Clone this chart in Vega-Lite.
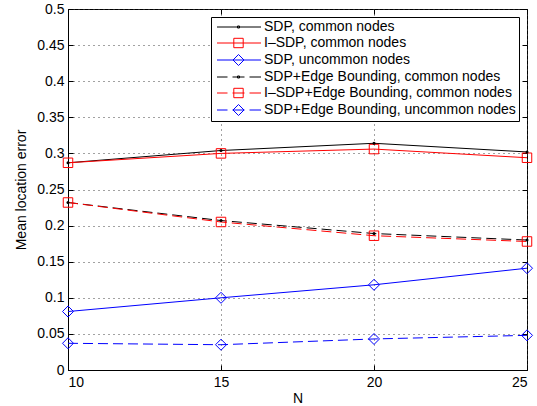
{
  "$schema": "https://vega.github.io/schema/vega-lite/v6.json",
  "width": 459,
  "height": 361,
  "autosize": {"type": "none"},
  "padding": {"left": 68, "top": 9, "right": 10, "bottom": 36},
  "background": "white",
  "config": {
    "view": {"stroke": "black", "strokeWidth": 1},
    "font": "Liberation Sans",
    "axis": {
      "labelFont": "Liberation Sans", "labelFontSize": 14, "labelColor": "black",
      "titleFont": "Liberation Sans", "titleFontSize": 14, "titleFontWeight": "normal", "titleColor": "black",
      "domainColor": "black", "tickColor": "black", "tickSize": -5,
      "gridColor": "#444", "gridDash": [1, 4], "gridOpacity": 1, "gridWidth": 1
    }
  },
  "data": {
    "values": [
      {"series": "SDP, common nodes", "N": 10, "error": 0.287},
      {"series": "SDP, common nodes", "N": 15, "error": 0.304},
      {"series": "SDP, common nodes", "N": 20, "error": 0.314},
      {"series": "SDP, common nodes", "N": 25, "error": 0.302},
      {"series": "I–SDP, common nodes", "N": 10, "error": 0.287},
      {"series": "I–SDP, common nodes", "N": 15, "error": 0.300},
      {"series": "I–SDP, common nodes", "N": 20, "error": 0.306},
      {"series": "I–SDP, common nodes", "N": 25, "error": 0.294},
      {"series": "SDP, uncommon nodes", "N": 10, "error": 0.081},
      {"series": "SDP, uncommon nodes", "N": 15, "error": 0.100},
      {"series": "SDP, uncommon nodes", "N": 20, "error": 0.118},
      {"series": "SDP, uncommon nodes", "N": 25, "error": 0.141},
      {"series": "SDP+Edge Bounding, common nodes", "N": 10, "error": 0.232},
      {"series": "SDP+Edge Bounding, common nodes", "N": 15, "error": 0.207},
      {"series": "SDP+Edge Bounding, common nodes", "N": 20, "error": 0.189},
      {"series": "SDP+Edge Bounding, common nodes", "N": 25, "error": 0.180},
      {"series": "I–SDP+Edge Bounding, common nodes", "N": 10, "error": 0.232},
      {"series": "I–SDP+Edge Bounding, common nodes", "N": 15, "error": 0.205},
      {"series": "I–SDP+Edge Bounding, common nodes", "N": 20, "error": 0.186},
      {"series": "I–SDP+Edge Bounding, common nodes", "N": 25, "error": 0.178},
      {"series": "SDP+Edge Bounding, uncommon nodes", "N": 10, "error": 0.037},
      {"series": "SDP+Edge Bounding, uncommon nodes", "N": 15, "error": 0.035},
      {"series": "SDP+Edge Bounding, uncommon nodes", "N": 20, "error": 0.043},
      {"series": "SDP+Edge Bounding, uncommon nodes", "N": 25, "error": 0.048}
    ]
  },
  "layer": [
    {
      "mark": {"type": "point", "filled": false, "size": 100, "strokeWidth": 1, "opacity": 0},
      "encoding": {
        "x": {
          "field": "N", "type": "quantitative",
          "scale": {"domain": [10, 25], "nice": false, "zero": false},
          "axis": {"orient": "bottom", "values": [10, 15, 20, 25], "title": "N", "grid": true, "labelPadding": 10, "titlePadding": 2}
        },
        "y": {
          "field": "error", "type": "quantitative",
          "scale": {"domain": [0, 0.5], "nice": false},
          "axis": {"orient": "left", "values": [0, 0.05, 0.1, 0.15, 0.2, 0.25, 0.3, 0.35, 0.4, 0.45, 0.5], "format": "~g", "title": "Mean location error", "grid": true, "labelPadding": 9, "titlePadding": 8}
        },
        "color": {
          "field": "series", "type": "nominal",
          "scale": {
            "domain": ["SDP, common nodes", "I–SDP, common nodes", "SDP, uncommon nodes", "SDP+Edge Bounding, common nodes", "I–SDP+Edge Bounding, common nodes", "SDP+Edge Bounding, uncommon nodes"],
            "range": ["#000000", "#ff0000", "#0000ff", "#000000", "#ff0000", "#0000ff"]
          },
          "legend": {
            "orient": "top-right", "offset": 8, "title": null,
            "labelFont": "Liberation Sans", "labelFontSize": 14, "labelColor": "black", "labelLimit": 400,
            "symbolSize": 100, "symbolStrokeWidth": 1, "symbolOpacity": 1, "labelOffset": 36,
            "padding": 3, "rowPadding": 2,
            "strokeColor": "black", "fillColor": "white"
          }
        },
        "shape": {
          "field": "series", "type": "nominal",
          "scale": {
            "domain": ["SDP, common nodes", "I–SDP, common nodes", "SDP, uncommon nodes", "SDP+Edge Bounding, common nodes", "I–SDP+Edge Bounding, common nodes", "SDP+Edge Bounding, uncommon nodes"],
            "range": [
              "M-0.8,0H8M3.3,-0.2H3.7V0.2H3.3Z",
              "M-0.8,0H8M2.56,-0.94H4.44V0.94H2.56Z",
              "M-0.8,0H8M2.4,0L3.5,-1.1L4.6,0L3.5,1.1Z",
              "M-0.8,0H1.3M2.3,0H4.7M5.7,0H8M3.3,-0.2H3.7V0.2H3.3Z",
              "M-0.8,0H1.3M2.3,0H4.7M5.7,0H8M2.56,-0.94H4.44V0.94H2.56Z",
              "M-0.8,0H1.3M2.3,0H4.7M5.7,0H8M2.4,0L3.5,-1.1L4.6,0L3.5,1.1Z"
            ]
          }
        }
      }
    },
    {
      "transform": [{"filter": {"field": "series", "oneOf": ["SDP, common nodes", "I–SDP, common nodes", "SDP, uncommon nodes"]}}],
      "mark": {"type": "line", "strokeWidth": 1},
      "encoding": {
        "x": {
          "field": "N", "type": "quantitative",
          "axis": {"orient": "top", "values": [10, 15, 20, 25], "labels": false, "grid": false, "domain": false, "title": null}
        },
        "y": {
          "field": "error", "type": "quantitative",
          "axis": {"orient": "right", "values": [0, 0.05, 0.1, 0.15, 0.2, 0.25, 0.3, 0.35, 0.4, 0.45, 0.5], "labels": false, "grid": false, "domain": false, "title": null}
        },
        "color": {"field": "series", "type": "nominal", "legend": null}
      }
    },
    {
      "transform": [{"filter": {"field": "series", "oneOf": ["SDP+Edge Bounding, common nodes", "I–SDP+Edge Bounding, common nodes", "SDP+Edge Bounding, uncommon nodes"]}}],
      "mark": {"type": "line", "strokeWidth": 1, "strokeDash": [10, 5]},
      "encoding": {
        "x": {"field": "N", "type": "quantitative", "axis": null},
        "y": {"field": "error", "type": "quantitative", "axis": null},
        "color": {"field": "series", "type": "nominal", "legend": null}
      }
    },
    {
      "transform": [{"filter": {"field": "series", "oneOf": ["I–SDP, common nodes", "I–SDP+Edge Bounding, common nodes"]}}],
      "mark": {"type": "point", "shape": "square", "size": 90, "filled": false, "strokeWidth": 1, "opacity": 1},
      "encoding": {
        "x": {"field": "N", "type": "quantitative", "axis": null},
        "y": {"field": "error", "type": "quantitative", "axis": null},
        "color": {"field": "series", "type": "nominal", "legend": null}
      }
    },
    {
      "transform": [{"filter": {"field": "series", "oneOf": ["SDP, uncommon nodes", "SDP+Edge Bounding, uncommon nodes"]}}],
      "mark": {"type": "point", "shape": "diamond", "size": 121, "filled": false, "strokeWidth": 1, "opacity": 1},
      "encoding": {
        "x": {"field": "N", "type": "quantitative", "axis": null},
        "y": {"field": "error", "type": "quantitative", "axis": null},
        "color": {"field": "series", "type": "nominal", "legend": null}
      }
    },
    {
      "transform": [{"filter": {"field": "series", "oneOf": ["SDP, common nodes", "SDP+Edge Bounding, common nodes"]}}],
      "mark": {"type": "circle", "size": 9, "opacity": 1, "color": "black"},
      "encoding": {
        "x": {"field": "N", "type": "quantitative", "axis": null},
        "y": {"field": "error", "type": "quantitative", "axis": null}
      }
    }
  ],
  "resolve": {"axis": {"x": "independent", "y": "independent"}}
}
